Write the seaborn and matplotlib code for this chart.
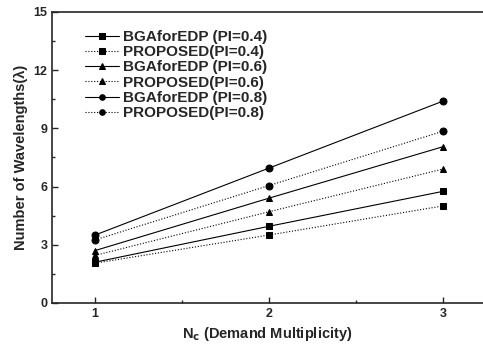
import matplotlib
matplotlib.use("Agg")
import matplotlib.pyplot as plt
import seaborn as sns
import pandas as pd
from matplotlib.ticker import MultipleLocator

# ================================
# Data
# ================================
nc = [1, 2, 3]

bga_04 = [2.1, 3.95, 5.75]
prop_04 = [2.05, 3.5, 5.0]
bga_06 = [2.7, 5.4, 8.05]
prop_06 = [2.45, 4.7, 6.9]
bga_08 = [3.5, 6.95, 10.4]
prop_08 = [3.25, 6.05, 8.85]

labels = [
    "BGAforEDP (PI=0.4)",
    "PROPOSED(PI=0.4)",
    "BGAforEDP (PI=0.6)",
    "PROPOSED(PI=0.6)",
    "BGAforEDP (PI=0.8)",
    "PROPOSED(PI=0.8)",
]
series = [bga_04, prop_04, bga_06, prop_06, bga_08, prop_08]
markers = ["s", "s", "^", "^", "o", "o"]
styles = ["-", (0, (1, 1.6)), "-", (0, (1, 1.6)), "-", (0, (1, 1.6))]

# ================================
# Plot
# ================================
sns.set_style("ticks")
plt.rcParams["font.family"] = ["Liberation Sans", "DejaVu Sans"]
plt.rcParams["font.weight"] = "bold"

fig = plt.figure(figsize=(4.83, 3.49), dpi=100)
ax = fig.add_axes([0.108, 0.132, 0.892, 0.834])

for vals, lab, mk, ls in zip(series, labels, markers, styles):
    df = pd.DataFrame({"Nc": nc, "val": vals})
    sns.lineplot(data=df, x="Nc", y="val", ax=ax, color="black",
                 marker=mk, markersize=5, linewidth=0.8, linestyle=ls,
                 markeredgecolor="black", label=lab)

ax.set_xlim(0.753, 3.23)
ax.set_ylim(0, 15)
ax.xaxis.set_major_locator(MultipleLocator(1))
ax.xaxis.set_minor_locator(MultipleLocator(0.5))
ax.yaxis.set_major_locator(MultipleLocator(3))
ax.yaxis.set_minor_locator(MultipleLocator(1.5))
ax.tick_params(which="both", direction="in", labelsize=9, width=1)
ax.tick_params(which="major", length=4)
ax.tick_params(which="minor", length=2.5)
ax.spines["right"].set_visible(False)
for s in ["left", "bottom", "top"]:
    ax.spines[s].set_linewidth(1.2)

ax.set_xlabel(r"N$_{\mathbf{c}}$ (Demand Multiplicity)", fontsize=10.5, fontweight="bold")
ax.set_ylabel("Number of Wavelengths(λ)", fontsize=10.5, fontweight="bold")

leg = ax.legend(loc="upper left", frameon=False, fontsize=11, handlelength=2.2,
                labelspacing=0.08, handletextpad=0.3, bbox_to_anchor=(0.045, 0.985),
                markerscale=0.8)

plt.savefig("out.png", dpi=100)
